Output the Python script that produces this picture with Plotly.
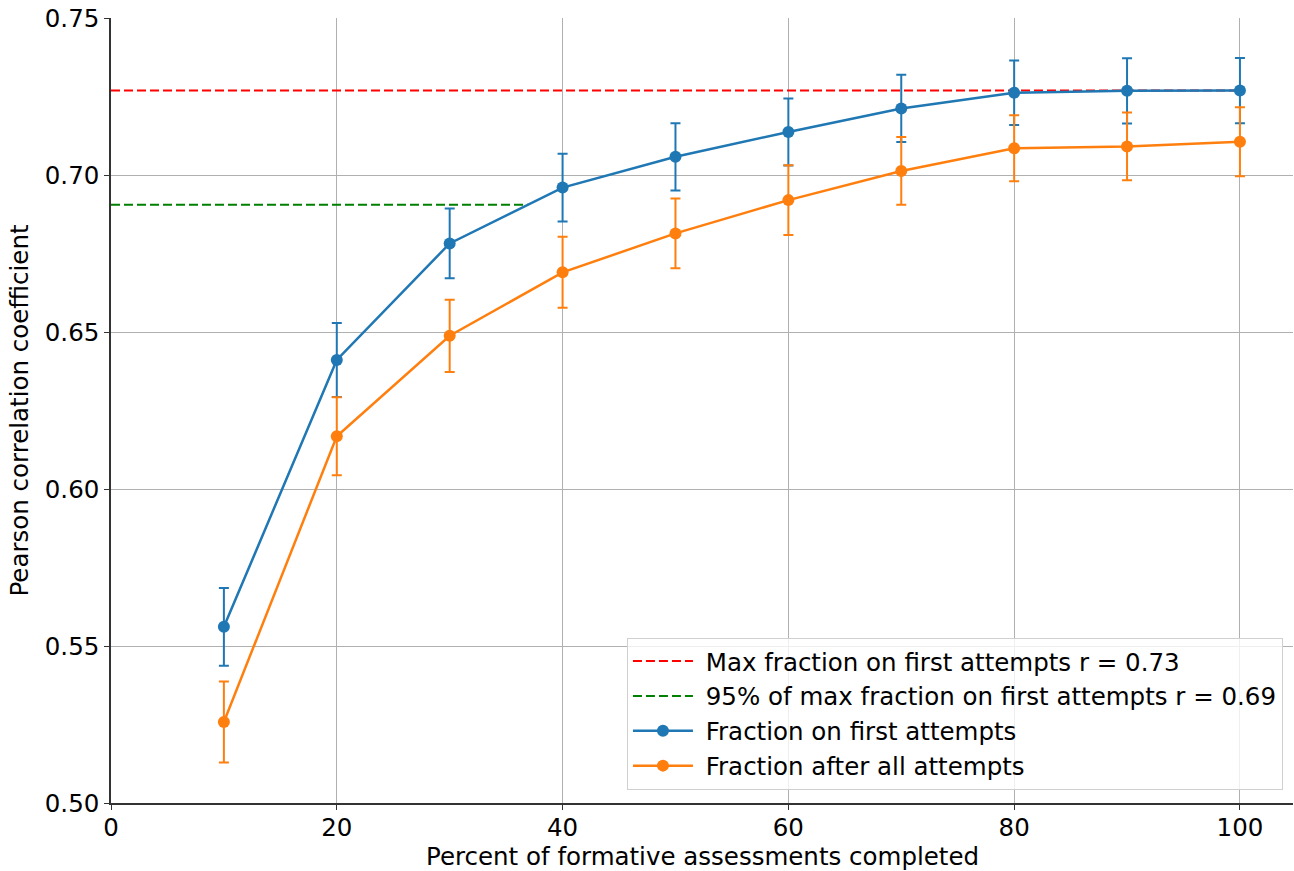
import plotly.graph_objects as go
import numpy as np

percent = [10, 20, 30, 40, 50, 60, 70, 80, 90, 100]
first_r = [0.5561, 0.6411, 0.6782, 0.6960, 0.7058, 0.7137, 0.7212, 0.7262, 0.7268, 0.7269]
first_err = [0.0124, 0.0118, 0.0111, 0.0108, 0.0107, 0.0107, 0.0107, 0.0103, 0.0104, 0.0104]
all_r = [0.5258, 0.6168, 0.6488, 0.6690, 0.6814, 0.6920, 0.7013, 0.7085, 0.7091, 0.7106]
all_err = [0.0129, 0.0124, 0.0115, 0.0113, 0.0111, 0.0111, 0.0108, 0.0105, 0.0108, 0.0110]

max_r = max(first_r)
r95 = 0.95 * max_r
# x where first-attempt curve reaches 95% of max
x95 = float(np.interp(r95, first_r, percent))

font = "DejaVu Sans"
fs = 24.5
fig = go.Figure()
fig.add_trace(go.Scatter(x=[0, max(percent)], y=[max_r, max_r], mode="lines",
                         line=dict(color="red", width=2, dash="9px,4px"),
                         name=f"\u00a0Max fraction on first attempts r = {max_r:.2f}"))
fig.add_trace(go.Scatter(x=[0, x95], y=[r95, r95], mode="lines",
                         line=dict(color="green", width=2, dash="9px,4px"),
                         name=f"\u00a095% of max fraction on first attempts r = {r95:.2f}"))
fig.add_trace(go.Scatter(x=percent, y=first_r, mode="lines+markers",
                         line=dict(color="#1f77b4", width=2.5),
                         marker=dict(color="#1f77b4", size=12),
                         error_y=dict(type="data", array=first_err, color="#1f77b4",
                                      thickness=2, width=5),
                         name="\u00a0Fraction on first attempts"))
fig.add_trace(go.Scatter(x=percent, y=all_r, mode="lines+markers",
                         line=dict(color="#ff7f0e", width=2.5),
                         marker=dict(color="#ff7f0e", size=12),
                         error_y=dict(type="data", array=all_err, color="#ff7f0e",
                                      thickness=2, width=5),
                         name="\u00a0Fraction after all attempts"))

fig.update_layout(
    width=1294, height=871,
    margin=dict(l=111, r=1, t=18, b=68),
    paper_bgcolor="white", plot_bgcolor="white",
    font=dict(family=font, size=fs, color="black"),
    showlegend=True,
    legend=dict(x=0.9915, y=0.017, xanchor="right", yanchor="bottom",
                bgcolor="rgba(255,255,255,0.8)", bordercolor="#d0d0d0", borderwidth=1,
                font=dict(family=font, size=fs), tracegroupgap=0, itemwidth=60),
    xaxis=dict(range=[0, 104.7], tickvals=[0, 20, 40, 60, 80, 100],
               showgrid=True, gridcolor="#b0b0b0", gridwidth=1.3,
               showline=True, linecolor="#333333", linewidth=1.5,
               ticks="outside", ticklen=5, tickcolor="#333333", tickwidth=1.3,
               ticklabelstandoff=-3,
               zeroline=False),
    yaxis=dict(range=[0.5, 0.75], tickvals=[0.5, 0.55, 0.6, 0.65, 0.7, 0.75],
               tickformat=".2f",
               showgrid=True, gridcolor="#b0b0b0", gridwidth=1.3,
               showline=True, linecolor="#333333", linewidth=1.5,
               ticks="outside", ticklen=5, tickcolor="#333333", tickwidth=1.3,
               zeroline=False,
               title=dict(text="Pearson correlation coefficient",
                          font=dict(size=fs), standoff=9)),
    annotations=[dict(text="Percent of formative assessments completed",
                      xref="paper", yref="paper", x=0.5, y=-0.068,
                      xanchor="center", yanchor="middle", showarrow=False,
                      borderpad=0,
                      font=dict(family=font, size=fs, color="black"))],
)
fig.write_html("out.html")
